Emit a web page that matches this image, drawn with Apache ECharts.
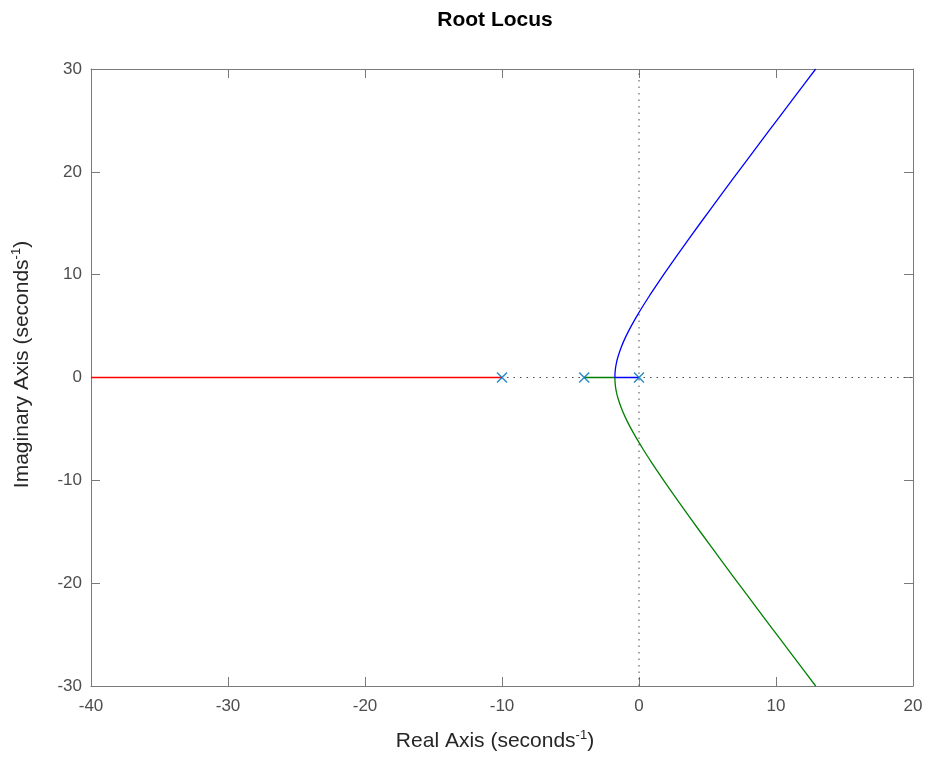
<!DOCTYPE html>
<html lang="en">
<head>
    <meta charset="UTF-8">
    <title>Root Locus</title>
    <script type="text/javascript" src="https://cdn.jsdelivr.net/npm/echarts@6/dist/echarts.min.js"></script>
    <style>
        html, body { margin: 0; padding: 0; background: #fff; }
    </style>
</head>
<body>

<div id="main" style="width:930px;height:757px;"></div>

<script type="text/javascript">
    // 极点位置 (real, imag)
    var poles = [[-10, 0], [-4, 0], [0, 0]];

    // 上半支 (蓝): 从 0 出发沿实轴到分离点后向上
    var blueBranch = [
        [0, 0], [-1.761, 0], [-1.757, 0.25], [-1.746, 0.5], [-1.704, 1], [-1.634, 1.5],
        [-1.540, 2], [-1.284, 3], [-0.955, 4], [-0.571, 5], [-0.145, 6], [0.311, 7],
        [0.790, 8], [1.797, 10], [2.846, 12], [4.468, 15], [6.124, 18], [7.801, 21],
        [9.491, 24], [11.190, 27], [12.896, 30]
    ];

    // 下半支 (绿): 从 -4 出发沿实轴到分离点后向下
    var greenBranch = [
        [-4, 0], [-1.761, 0], [-1.757, -0.25], [-1.746, -0.5], [-1.704, -1], [-1.634, -1.5],
        [-1.540, -2], [-1.284, -3], [-0.955, -4], [-0.571, -5], [-0.145, -6], [0.311, -7],
        [0.790, -8], [1.797, -10], [2.846, -12], [4.468, -15], [6.124, -18], [7.801, -21],
        [9.491, -24], [11.190, -27], [12.896, -30]
    ];

    // 实轴支 (红): 从 -10 向左
    var redBranch = [[-10, 0], [-40, 0]];

    var xTicks = [-40, -30, -20, -10, 0, 10, 20];
    var yTicks = [-30, -20, -10, 0, 10, 20, 30];

    var axisGray = '#7a7a7a';
    var labelGray = '#4d4d4d';
    var fontFam = 'Liberation Sans, Arial, Helvetica, sans-serif';

    function boxAxis(extra) {
        var a = {
            type: 'value',
            interval: 10,
            axisLine: { show: true, onZero: false, lineStyle: { color: axisGray, width: 1 } },
            axisTick: { show: true, inside: true, length: 9, lineStyle: { color: axisGray } },
            splitLine: { show: false },
            axisLabel: { color: labelGray, fontSize: 17, fontFamily: fontFam }
        };
        for (var k in extra) a[k] = extra[k];
        return a;
    }

    var nameRich = {
        a: { fontSize: 21, color: '#262626', fontFamily: fontFam },
        s: { fontSize: 13, color: '#262626', fontFamily: fontFam, verticalAlign: 'top', padding: [0, 0, 12, 0] }
    };

    var option = {
        animation: false,
        backgroundColor: '#fff',
        title: {
            text: 'Root Locus',
            left: 490,
            top: 5,
            textAlign: 'center',
            textStyle: { fontSize: 21, fontWeight: 'bold', color: '#000', fontFamily: fontFam }
        },
        grid: { left: 91, right: 17, top: 69, bottom: 70 },
        xAxis: [
            boxAxis({
                min: xTicks[0], max: xTicks[xTicks.length - 1], position: 'bottom',
                axisLabel: { color: labelGray, fontSize: 17, fontFamily: fontFam, margin: 12 },
                name: '{a|Real Axis (seconds}{s|-1}{a|)}',
                nameLocation: 'middle',
                nameGap: 43,
                nameTextStyle: { rich: nameRich, padding: [0, 14, 0, 0] }
            }),
            boxAxis({ min: xTicks[0], max: xTicks[xTicks.length - 1], position: 'top', axisLabel: { show: false } })
        ],
        yAxis: [
            boxAxis({
                min: yTicks[0], max: yTicks[yTicks.length - 1], position: 'left',
                axisLabel: { color: labelGray, fontSize: 17, fontFamily: fontFam, margin: 9 },
                name: '{a|Imaginary Axis (seconds}{s|-1}{a|)}',
                nameLocation: 'middle',
                nameGap: 56,
                nameRotate: 90,
                nameTextStyle: { rich: nameRich, padding: [0, 0, 0, 26] }
            }),
            boxAxis({ min: yTicks[0], max: yTicks[yTicks.length - 1], position: 'right', axisLabel: { show: false } })
        ],
        series: [
            {
                type: 'line', silent: true, symbol: 'none',
                data: [[xTicks[0], 0], [xTicks[xTicks.length - 1], 0]],
                lineStyle: { color: '#4a4a4a', width: 1, type: [1.5, 5] }, z: 1
            },
            {
                type: 'line', silent: true, symbol: 'none',
                data: [[0, yTicks[0]], [0, yTicks[yTicks.length - 1]]],
                lineStyle: { color: '#4a4a4a', width: 1, type: [1.5, 5] }, z: 1
            },
            {
                name: 'red', type: 'line', symbol: 'none', clip: true,
                data: redBranch, lineStyle: { color: '#ff0000', width: 1.3 }, z: 3
            },
            {
                name: 'green', type: 'line', symbol: 'none', clip: true, smooth: 0.2,
                data: greenBranch, lineStyle: { color: '#008000', width: 1.3 }, z: 3
            },
            {
                name: 'blue', type: 'line', symbol: 'none', clip: true, smooth: 0.2,
                data: blueBranch, lineStyle: { color: '#0000ff', width: 1.3 }, z: 4
            },
            {
                name: 'poles', type: 'scatter',
                data: poles,
                symbol: 'path://M0,0L10,10M10,0L0,10',
                symbolSize: 10,
                itemStyle: { color: 'rgba(0,0,0,0)', borderColor: '#0072BD', borderWidth: 1.6 },
                z: 5
            }
        ]
    };

    var myChart = echarts.init(document.getElementById('main'));
    myChart.setOption(option);
</script>
</body>
</html>
